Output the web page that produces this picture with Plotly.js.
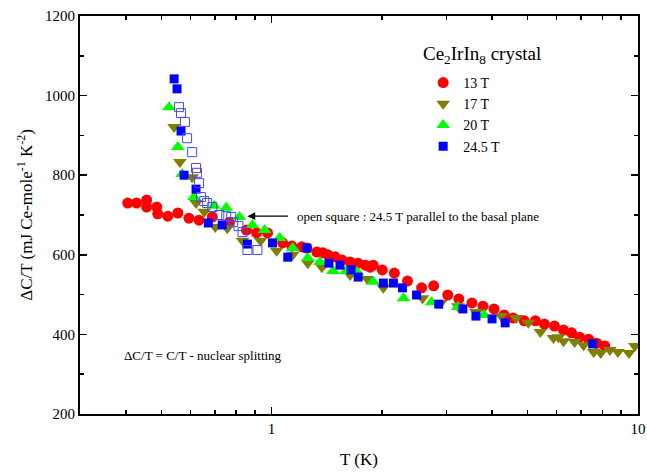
<!DOCTYPE html>
<html>
<head>
<meta charset="utf-8">
<script src="https://cdn.plot.ly/plotly-3.0.1.min.js"></script>
<style>html,body{margin:0;padding:0;background:#fff;}#chart{width:647px;height:472px;}</style>
</head>
<body>
<div id="chart"></div>
<script>
// 13 T
const t13 = [0.405,0.428,0.456,0.456,0.486,0.489,0.521,0.555,0.595,0.634,0.689,0.767,0.854,0.910,0.975,1.072,1.135,1.209,1.248,1.329,1.381,1.425,1.490,1.557,1.638,1.723,1.801,1.858,1.894,2.005,2.163,2.349,2.567,2.769,3.026,3.243,3.522,3.775,4.046,4.311,4.563,4.893,5.246,5.553,5.916,6.263,6.588,6.929,7.335,7.717,8.116];
const c13 = [730,730,738,720,720,703,697,705,692,687,695,682,662,655,655,630,622,620,617,607,605,600,595,587,582,579,574,569,574,562,554,534,517,522,499,489,479,471,464,449,441,434,434,426,421,411,404,393,388,378,371];
// 17 T
const t17 = [0.542,0.562,0.607,0.622,0.655,0.702,0.757,0.833,0.933,1.032,1.142,1.256,1.372,1.638,1.824,2.018,2.583,2.894,3.224,3.612,4.231,4.651,5.018,5.414,5.878,6.067,6.263,6.714,7.107,7.570,7.913,8.378,8.813,9.448,9.8];
const c17 = [921,833,795,730,708,670,667,635,635,610,600,579,569,549,539,517,491,479,471,456,446,441,429,406,391,393,383,381,373,356,353,361,356,353,371];
// 20 T
const t20 = [0.525,0.555,0.570,0.614,0.697,0.752,0.817,0.887,0.957,1.052,1.142,1.256,1.355,1.471,1.597,1.712,1.894,2.291,2.734,3.224,3.800];
const c20 = [971,871,803,745,723,718,695,675,662,642,617,592,582,559,559,557,532,491,481,469,449];
// 24.5 T
const t245 = [0.542,0.552,0.566,0.577,0.622,0.672,0.733,0.859,1.006,1.107,1.248,1.434,1.537,1.648,1.723,2.018,2.150,2.276,2.487,2.858,3.327,3.612,3.997,4.340,7.522];
const c245 = [1042,1017,911,800,765,680,675,627,630,594,617,579,574,562,544,529,529,517,499,476,464,446,439,429,376];
// 24.5 T parallel to the basal plane (open squares)
const tPar = [0.559,0.566,0.580,0.588,0.607,0.622,0.626,0.634,0.642,0.655,0.667,0.689,0.720,0.752,0.776,0.786,0.812,0.833,0.859,0.915];
const cPar = [971,956,934,893,858,818,806,780,745,735,730,720,700,697,695,682,672,657,612,612];

const legendNames = ['13 T','17 T','20 T','24.5 T'];
const xTickVals = [1,10];
const xTickText = ['1','10'];
const xMinorVals = [0.4,0.5,0.6,0.7,0.8,0.9,2,3,4,5,6,7,8,9];

const serif = "'Liberation Serif', 'Times New Roman', Times, serif";

const traces = [
  {x:t13, y:c13, name:legendNames[0], mode:'markers', type:'scatter',
   marker:{symbol:'circle', size:11, color:'#ff0000'}},
  {x:t17, y:c17, name:legendNames[1], mode:'markers', type:'scatter',
   marker:{symbol:'triangle-down', size:12, color:'#808000'}},
  {x:t20, y:c20, name:legendNames[2], mode:'markers', type:'scatter',
   marker:{symbol:'triangle-up', size:12, color:'#00ff00'}},
  {x:t245, y:c245, name:legendNames[3], mode:'markers', type:'scatter',
   marker:{symbol:'square', size:9, color:'#0000ff'}},
  {x:tPar, y:cPar, name:'24.5 T parallel', mode:'markers', type:'scatter', showlegend:false,
   marker:{symbol:'square-open', size:9, color:'#4a4ae8', line:{width:1}}}
];

const layout = {
  width:647, height:472,
  margin:{l:80, r:9, t:16, b:58},
  paper_bgcolor:'#fff', plot_bgcolor:'#fff',
  font:{family:serif, color:'#000', size:15},
  showlegend:true,
  legend:{x:0.615, y:0.872, xanchor:'left', yanchor:'top', bgcolor:'rgba(0,0,0,0)',
          font:{family:serif, size:14, color:'#000'}, tracegroupgap:0},
  xaxis:{type:'log', range:[Math.log10(0.3), 1], tickmode:'array', tickvals:xTickVals, ticktext:xTickText,
         ticks:'inside', ticklen:7, tickwidth:1.5, tickcolor:'#000',
         minor:{tickmode:'array', tickvals:xMinorVals, ticks:'inside', ticklen:4, tickwidth:1.5, tickcolor:'#000'},
         showline:true, linewidth:2, linecolor:'#000', mirror:'allticks', showgrid:false, zeroline:false,
         tickfont:{family:serif, size:15},
         title:{text:'T (K)', font:{family:serif, size:17}, standoff:17}},
  yaxis:{range:[200,1200], tickmode:'linear', tick0:200, dtick:200,
         ticks:'inside', ticklen:7, tickwidth:1.5, tickcolor:'#000',
         minor:{dtick:100, ticks:'inside', ticklen:4, tickwidth:1.5, tickcolor:'#000'},
         showline:true, linewidth:2, linecolor:'#000', mirror:'allticks', showgrid:false, zeroline:false,
         tickfont:{family:serif, size:15},
         title:{text:'ΔC/T (mJ Ce-mole<sup>-1</sup> K<sup>-2</sup>)', font:{family:serif, size:17}, standoff:8}},
  annotations:[
    {xref:'paper', yref:'paper', x:0.72, y:0.902, xanchor:'center', yanchor:'middle', showarrow:false,
     text:'Ce<sub>2</sub>IrIn<sub>8</sub> crystal', font:{family:serif, size:19, color:'#000'}},
    {xref:'x', yref:'y', x:Math.log10(0.859), y:697, ax:42, ay:0, showarrow:true, arrowhead:2, arrowsize:1.2,
     arrowwidth:1.3, arrowcolor:'#000', text:''},
    {xref:'x', yref:'y', x:Math.log10(1.157), y:697, xanchor:'left', yanchor:'middle', showarrow:false,
     text:'open square : 24.5 T parallel to the basal plane', font:{family:serif, size:13, color:'#000'}},
    {xref:'x', yref:'y', x:Math.log10(0.39), y:348, xanchor:'left', yanchor:'middle', showarrow:false,
     text:'ΔC/T = C/T - nuclear splitting', font:{family:serif, size:13, color:'#000'}}
  ]
};

Plotly.newPlot('chart', traces, layout, {displayModeBar:false, staticPlot:true});
</script>
</body>
</html>
